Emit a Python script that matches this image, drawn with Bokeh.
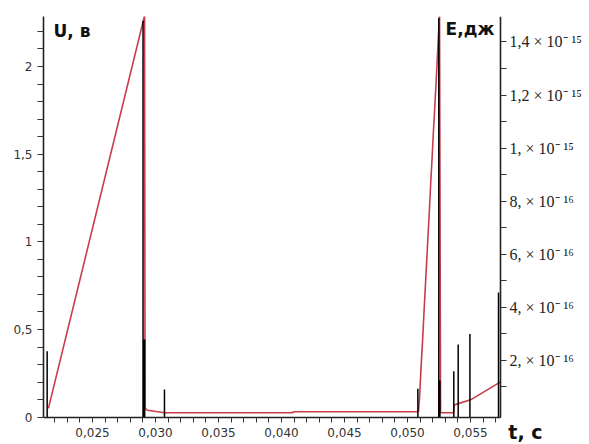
from bokeh.plotting import figure
from bokeh.models import Range1d, LinearAxis, FixedTicker, Label
from bokeh.embed import file_html
from bokeh.resources import INLINE

# ---- data ----
# voltage U, в (left axis)
t_u = [0.02150, 0.02913, 0.02917, 0.02935, 0.03071, 0.04090, 0.04092, 0.05087,
       0.05096, 0.05107, 0.05118, 0.05130, 0.05141, 0.05152, 0.05163, 0.05174,
       0.05185, 0.05195, 0.05204, 0.05214, 0.05226, 0.05235, 0.05247, 0.05254,
       0.05262, 0.05365, 0.05370, 0.05397, 0.05500, 0.05735]
u_v = [0.05, 2.29, 0.05, 0.04, 0.025, 0.025, 0.031, 0.031,
       0.12, 0.28, 0.42, 0.59, 0.74, 0.89, 1.04, 1.19,
       1.35, 1.48, 1.61, 1.74, 1.90, 2.03, 2.20, 2.29,
       0.025, 0.025, 0.07, 0.076, 0.099, 0.20]

# energy E, дж (right axis) - spikes
t_e = [0.02140, 0.02901, 0.02906, 0.02914, 0.03071, 0.05082, 0.05248, 0.05251,
       0.05257, 0.05367, 0.05402, 0.05495, 0.05722]
e_j = [2.35e-16, 1.48e-15, 2.79e-16, 2.79e-16, 0.90e-16, 0.93e-16, 1.49e-15, 1.24e-16,
       1.24e-16, 1.59e-16, 2.60e-16, 3.00e-16, 4.56e-16]

# axis extents
t_min, t_max = 0.02111, 0.05738
u_max = 2.285
e_floor, e_max = -1.39e-17, 1.496e-15

# ticks
x_ticks = [0.025, 0.030, 0.035, 0.040, 0.045, 0.050, 0.055]
x_labels = ["0,025", "0,030", "0,035", "0,040", "0,045", "0,050", "0,055"]
x_minor = [0.022, 0.023, 0.024, 0.026, 0.027, 0.028, 0.029, 0.031, 0.032, 0.033,
           0.034, 0.036, 0.037, 0.038, 0.039, 0.041, 0.042, 0.043, 0.044, 0.046,
           0.047, 0.048, 0.049, 0.051, 0.052, 0.053, 0.054, 0.056, 0.057]
u_ticks = [0, 0.5, 1, 1.5, 2]
u_labels = ["0", "0,5", "1", "1,5", "2"]
u_minor = [0.1, 0.2, 0.3, 0.4, 0.6, 0.7, 0.8, 0.9, 1.1, 1.2, 1.3, 1.4,
           1.6, 1.7, 1.8, 1.9, 2.1, 2.2]
e_ticks = [2e-16, 4e-16, 6e-16, 8e-16, 1e-15, 1.2e-15, 1.4e-15]
e_labels = ["2, × 10⁻ ¹⁶", "4, × 10⁻ ¹⁶", "6, × 10⁻ ¹⁶", "8, × 10⁻ ¹⁶",
            "1, × 10⁻ ¹⁵", "1,2 × 10⁻ ¹⁵", "1,4 × 10⁻ ¹⁵"]
e_minor = [1e-16, 3e-16, 5e-16, 7e-16, 9e-16, 1.1e-15, 1.3e-15]

# ---- figure ----
# frame spans the canvas to the right and bottom; bottom and right axes are
# pinned at U=0 and t=t_max so that the "t, c" title can sit outside them.
p = figure(width=589, height=444, output_backend="svg", toolbar_location=None,
           x_range=Range1d(t_min, 0.06444), y_range=Range1d(-0.1557, u_max),
           min_border_left=43, min_border_right=0, min_border_top=16,
           min_border_bottom=0)
p.extra_y_ranges = {"E": Range1d(-1.168e-16, e_max)}
p.xgrid.visible = False
p.ygrid.visible = False
p.outline_line_color = None
p.background_fill_color = "white"
p.border_fill_color = "white"

ax = p.below[0]
ax.ticker = FixedTicker(ticks=x_ticks, minor_ticks=x_minor)
ax.major_label_overrides = dict(zip(x_ticks, x_labels))
ax.fixed_location = 0
ax.bounds = (t_min, t_max)
ay = p.left[0]
ay.ticker = FixedTicker(ticks=u_ticks, minor_ticks=u_minor)
ay.major_label_overrides = dict(zip(u_ticks, u_labels))
ay.bounds = (0, u_max)

for a in (ax, ay):
    a.axis_line_width = 1.6
    a.axis_line_color = "#222222"
    a.major_tick_line_color = "#333333"
    a.minor_tick_line_color = "#333333"
    a.major_tick_in = 0
    a.minor_tick_in = 0
    a.major_label_text_font = "DejaVu Sans"
    a.major_label_text_font_size = "12px"
    a.major_label_text_color = "#333333"
ax.major_tick_out = 5
ax.minor_tick_out = 5
ay.major_tick_out = 6
ay.minor_tick_out = 6
ax.major_label_standoff = 6

ar = LinearAxis(y_range_name="E",
                ticker=FixedTicker(ticks=e_ticks, minor_ticks=e_minor))
ar.major_label_overrides = dict(zip(e_ticks, e_labels))
ar.fixed_location = t_max
ar.bounds = (e_floor, e_max)
ar.axis_line_width = 1.6
ar.axis_line_color = "#222222"
ar.major_tick_line_color = "#333333"
ar.minor_tick_line_color = "#333333"
ar.major_tick_in = 0
ar.minor_tick_in = 0
ar.major_tick_out = 6
ar.minor_tick_out = 6
ar.major_label_standoff = 3
ar.major_label_text_font = "Liberation Serif"
ar.major_label_text_font_size = "16px"
ar.major_label_text_color = "#222222"
p.add_layout(ar, "right")

# ---- marks ----
p.line(t_u, u_v, line_color="#c83c4c", line_width=1.6)
p.segment(x0=t_e, y0=[e_floor] * len(t_e), x1=t_e, y1=e_j, y_range_name="E",
          line_color="black", line_width=1.5)

# ---- axis titles ----
p.add_layout(Label(x=0.02190, y=2.20, text="U, в", text_font="DejaVu Sans",
                   text_font_style="bold", text_font_size="17px",
                   text_color="#111111", text_baseline="alphabetic"))
p.add_layout(Label(x=0.05302, y=2.215, text="E,дж", text_font="DejaVu Sans",
                   text_font_style="bold", text_font_size="17px",
                   text_color="#111111", text_baseline="alphabetic"))
p.add_layout(Label(x=0.05800, y=-0.085, text="t, c", text_font="DejaVu Sans",
                   text_font_style="bold", text_font_size="19px",
                   text_color="#111111", text_baseline="alphabetic"))

open("out.html", "w").write(file_html(p, INLINE))
